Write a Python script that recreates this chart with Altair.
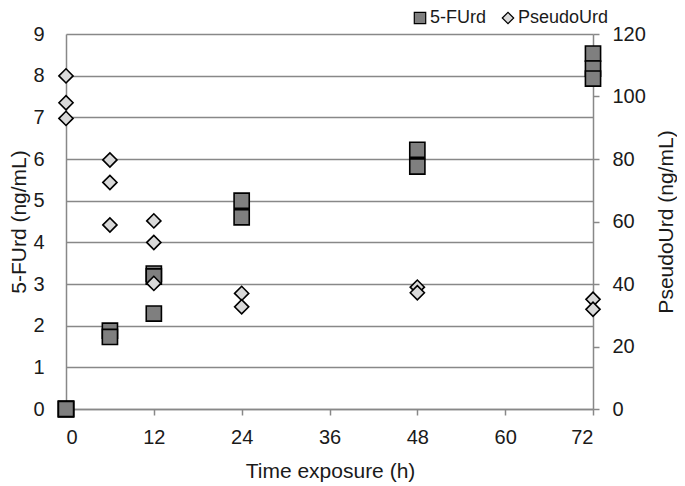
import altair as alt
import pandas as pd

# 5-FUrd (left axis, ng/mL)
hours_furd = [0, 0, 0, 6, 6, 12, 12, 12, 24, 24, 48, 48, 72, 72, 72]
furd = [0, 0, 0, 1.88, 1.73, 3.25, 3.18, 2.29, 5.0, 4.6, 6.22, 5.82, 8.53, 8.17, 7.93]

# PseudoUrd (right axis, ng/mL)
hours_pseudo = [0, 0, 0, 6, 6, 6, 12, 12, 12, 24, 24, 48, 48, 72, 72]
pseudo = [106.6, 98.0, 93.0, 79.7, 72.5, 58.9, 60.2, 53.3, 40.2, 37.0, 32.7, 39.0, 37.2, 35.1, 31.9]

series_names = ["5-FUrd", "PseudoUrd"]
series_fill = ["#7f7f7f", "#d9d9d9"]
series_stroke = ["black", "black"]
series_shape = ["square", "diamond"]

x_ticks = [0, 12, 24, 36, 48, 60, 72]
left_ticks = list(range(10))
right_ticks = [0, 20, 40, 60, 80, 100, 120]

df1 = pd.DataFrame({"hours": hours_furd, "value": furd, "series": "5-FUrd"})
df2 = pd.DataFrame({"hours": hours_pseudo, "value": pseudo, "series": "PseudoUrd"})

FONT = "Liberation Sans"
GRAY = "#888888"
TXT = "#1a1a1a"

x_enc = alt.X(
    "hours:Q",
    scale=alt.Scale(domain=[0, 72], nice=False, zero=False),
    axis=alt.Axis(
        values=x_ticks, title="Time exposure (h)", grid=False,
        tickSize=6, tickColor=GRAY, tickWidth=1.5,
        domainColor=GRAY, domainWidth=1.5,
        labelFontSize=20, labelPadding=12, labelColor=TXT, labelFont=FONT,
        titleFontSize=21, titleFont=FONT, titleColor=TXT, titleFontWeight="normal",
        titleX=264, titleY=62, titleBaseline="middle", titleAlign="center",
    ),
)

legend_cfg = dict(
    title=None, orient="none", direction="horizontal",
    legendX=345, legendY=-25,
    labelFontSize=18, labelFont=FONT, labelColor=TXT,
    symbolSize=130, columnPadding=12, labelOffset=1,
    symbolStrokeWidth=1.2,
)

fill_enc = alt.Fill(
    "series:N",
    scale=alt.Scale(domain=series_names, range=series_fill),
    legend=alt.Legend(**legend_cfg),
)
stroke_enc = alt.Stroke(
    "series:N",
    scale=alt.Scale(domain=series_names, range=series_stroke),
    legend=alt.Legend(**legend_cfg),
)
shape_enc = alt.Shape(
    "series:N",
    scale=alt.Scale(domain=series_names, range=series_shape),
    legend=alt.Legend(**legend_cfg),
)

furd_layer = alt.Chart(df1).mark_point(
    filled=True, size=230, strokeWidth=1.6, opacity=1, strokeOpacity=1
).encode(
    x=x_enc,
    y=alt.Y(
        "value:Q",
        scale=alt.Scale(domain=[0, 9], nice=False),
        axis=alt.Axis(
            values=left_ticks, title="5-FUrd (ng/mL)", grid=True,
            gridColor=GRAY, gridWidth=1.5, ticks=False, tickSize=0,
            domainColor=GRAY, domainWidth=1.5,
            labelFontSize=20, labelPadding=22, labelColor=TXT, labelFont=FONT,
            titleFontSize=21, titleFont=FONT, titleColor=TXT, titleFontWeight="normal",
            titleAngle=270, titleX=-47, titleY=187.5,
            titleBaseline="middle", titleAlign="center",
        ),
    ),
    fill=fill_enc,
    stroke=stroke_enc,
    shape=shape_enc,
)

pseudo_layer = alt.Chart(df2).mark_point(
    filled=True, size=200, strokeWidth=1.6, opacity=1, strokeOpacity=1
).encode(
    x=x_enc,
    y=alt.Y(
        "value:Q",
        scale=alt.Scale(domain=[0, 120], nice=False),
        axis=alt.Axis(
            orient="right", values=right_ticks, title="PseudoUrd (ng/mL)", grid=False,
            tickSize=6, tickColor=GRAY, tickWidth=1.5,
            domainColor=GRAY, domainWidth=1.5,
            labelFontSize=20, labelPadding=13, labelColor=TXT, labelFont=FONT,
            titleFontSize=21, titleFont=FONT, titleColor=TXT, titleFontWeight="normal",
            titleAngle=270, titleX=73, titleY=187.5,
            titleBaseline="middle", titleAlign="center",
        ),
    ),
    fill=fill_enc,
    stroke=stroke_enc,
    shape=shape_enc,
)

chart = (
    alt.layer(furd_layer, pseudo_layer)
    .resolve_scale(y="independent")
    .properties(
        width=527, height=375,
        autosize=alt.AutoSizeParams(type="none"),
        padding={"left": 58, "top": 26, "right": 84, "bottom": 76},
        background="white",
    )
    .configure_view(stroke=None)
)

chart.save("out.html", embed_options={"renderer": "svg", "actions": False})
